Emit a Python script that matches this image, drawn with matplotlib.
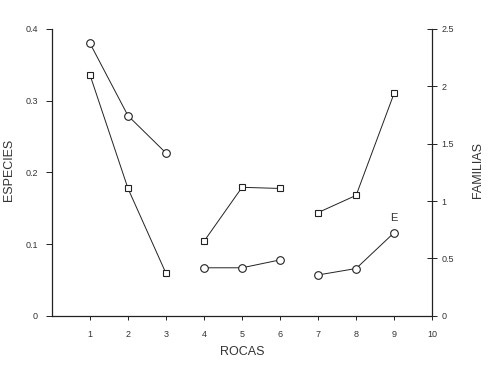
import matplotlib.pyplot as plt
import numpy as np

# Data (three groups of rocks)
rocas = [[1, 2, 3], [4, 5, 6], [7, 8, 9]]
especies = [[0.380, 0.279, 0.227], [0.067, 0.067, 0.078], [0.057, 0.066, 0.116]]
familias = [[2.10, 1.11, 0.37], [0.65, 1.12, 1.11], [0.90, 1.05, 1.94]]

x_ticks = [1, 2, 3, 4, 5, 6, 7, 8, 9, 10]
left_ticks = [0, 0.1, 0.2, 0.3, 0.4]
left_labels = ['0', '0.1', '0.2', '0.3', '0.4']
right_ticks = [0, 0.5, 1, 1.5, 2, 2.5]
right_labels = ['0', '0.5', '1', '1.5', '2', '2.5']

ink = '#222222'
txt = '#333333'

plt.rcParams['font.family'] = ['Liberation Sans', 'DejaVu Sans']

fig = plt.figure(figsize=(4.9, 3.76), dpi=100)
ax = fig.add_axes([0.106, 0.160, 0.776, 0.763])
ax2 = ax.twinx()

for xs, ys in zip(rocas, especies):
    ax.plot(xs, ys, color=ink, lw=0.7, marker='o', ms=5.5,
            mfc='white', mec=ink, mew=0.8)
for xs, ys in zip(rocas, familias):
    ax2.plot(xs, ys, color=ink, lw=0.7, marker='s', ms=5.0,
             mfc='white', mec=ink, mew=0.8)

ax.text(9, 0.136, 'E', ha='center', va='center', fontsize=8, color=txt)

ax.set_xlim(0, 10)
ax.set_ylim(0, 0.4)
ax2.set_ylim(0, 2.5)

ax.set_xticks(x_ticks)
ax.set_yticks(left_ticks, left_labels)
ax2.set_yticks(right_ticks, right_labels)

ax.tick_params(axis='x', direction='out', length=3, width=0.7,
               labelsize=6.5, labelcolor=txt, color=ink, pad=7)
ax.tick_params(axis='y', direction='out', length=4, width=0.7,
               labelsize=6.5, labelcolor=txt, color=ink, pad=6)
ax2.tick_params(axis='y', direction='inout', length=7, width=0.7,
                labelsize=6.5, labelcolor=txt, color=ink, pad=3)

for a in (ax, ax2):
    a.spines['top'].set_visible(False)
    for s in ('left', 'right', 'bottom'):
        a.spines[s].set_linewidth(0.9)
        a.spines[s].set_color(ink)
ax.spines['right'].set_visible(False)
ax2.spines['left'].set_visible(False)
ax2.spines['bottom'].set_visible(False)

ax.set_xlabel('ROCAS', fontsize=9, color=txt, labelpad=5)
ax.set_ylabel('ESPECIES', fontsize=9, color=txt)
ax2.set_ylabel('FAMILIAS', fontsize=9, color=txt)
ax.yaxis.set_label_coords(-0.097, 0.51)
ax2.yaxis.set_label_coords(1.105, 0.51)

fig.savefig('out.png', dpi=100)
